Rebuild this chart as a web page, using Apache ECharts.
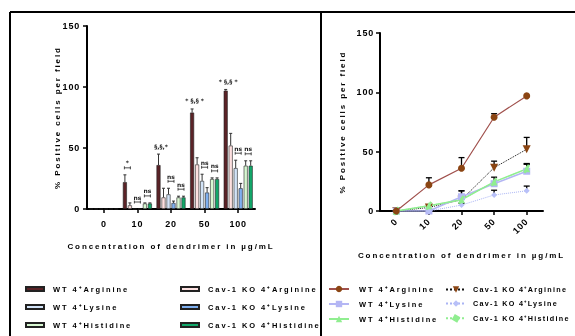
<!DOCTYPE html>
<html><head><meta charset="utf-8">
<script src="https://cdn.jsdelivr.net/npm/echarts@6/dist/echarts.min.js"></script>
<style>
html,body{margin:0;padding:0;background:#fff;}
#c{width:575px;height:336px;will-change:transform;}
#c text{letter-spacing:1.9px;}
#c text[style*="Arial"]{letter-spacing:0.8px;}
#c text[style*="Helvetica"]{letter-spacing:1.3px;}
#c text[style*="DejaVu"]{letter-spacing:0;}
</style></head><body><div id="c"></div>
<script>
// ---------- data ----------
const categories = ['0', '10', '20', '50', '100'];
const yTicks = [0, 50, 100, 150];
const nameWtArg = 'WT 4⁺Arginine';
const nameCavArg = 'Cav-1 KO 4⁺Arginine';
const nameWtLys = 'WT 4⁺Lysine';
const nameCavLys = 'Cav-1 KO 4⁺Lysine';
const nameWtHis = 'WT 4⁺Histidine';
const nameCavHis = 'Cav-1 KO 4⁺Histidine';
const wtArginine = [0, 22, 36, 79, 97];
const wtArginineErr = [0, 28, 45, 82, 98];
const cavArginine = [0, 3, 9.5, 36.5, 52];
const cavArginineErr = [0, 5, 17, 42, 62];
const wtLysine = [0, 0, 12, 23, 33.5];
const wtLysineErr = [0, 0, 17, 28.5, 40];
const cavLysine = [0, 0, 5, 13.5, 17];
const cavLysineErr = [0, 0, 6.5, 17.5, 21];
const wtHistidine = [0, 4.5, 9.5, 24.5, 35.5];
const wtHistidineErr = [0, 5, 10.5, 25.5, 39.5];
const cavHistidine = [0, 4.5, 9.5, 24.5, 35.5];
const cavHistidineErr = [0, 5, 10.5, 25.5, 39.5];
// significance marks: [category index, pair (0 Arg, 1 Lys, 2 His), text, bracket]
const annotations = [
  [1, 0, '*', true], [1, 1, 'ns', true], [1, 2, 'ns', true],
  [2, 0, '§,§,*', false], [2, 1, 'ns', true], [2, 2, 'ns', true],
  [3, 0, '* §,§ *', false], [3, 1, 'ns', true], [3, 2, 'ns', true],
  [4, 0, '* §,§ *', false], [4, 1, 'ns', true], [4, 2, 'ns', true]
];
const yTitle = '% Positive cells per field';
const xTitle = 'Concentration of dendrimer in µg/mL';

// ---------- build ----------
const names = [nameWtArg, nameCavArg, nameWtLys, nameCavLys, nameWtHis, nameCavHis];
const vals = [wtArginine, cavArginine, wtLysine, cavLysine, wtHistidine, cavHistidine];
const errs = [wtArginineErr, cavArginineErr, wtLysineErr, cavLysineErr, wtHistidineErr, cavHistidineErr];
const barColors = ['#5b2327', '#fde0e0', '#d3e4f8', '#7fb0f0', '#d8f8d2', '#12a86a'];
const BAR_W = 4, BAR_STEP = 5;
const barOffset = i => (i - 2.5) * BAR_STEP;
const FONT = 'Liberation Sans';
const LINE_PREFIX = 'L:';

const chart = echarts.init(document.getElementById('c'), null, {renderer: 'svg'});

const axisLineStyle = {color: '#000', width: 2};
function yAxis(gridIndex, gap, margin) {
  return {
    type: 'value', gridIndex, min: yTicks[0], max: yTicks[yTicks.length - 1],
    interval: yTicks[1] - yTicks[0],
    axisLine: {show: true, lineStyle: axisLineStyle},
    axisTick: {show: true, length: 4, lineStyle: {color: '#000', width: 1.5}},
    splitLine: {show: false},
    axisLabel: {color: '#000', fontFamily: 'Arial', fontWeight: 'bold', fontSize: 9, margin},
    name: yTitle, nameLocation: 'middle', nameRotate: 90, nameGap: gap,
    nameTextStyle: {color: '#000', fontFamily: FONT, fontWeight: 'bold', fontSize: 8}
  };
}
function xAxis(gridIndex, gap, rotate, margin) {
  return {
    type: 'category', gridIndex, data: categories,
    axisLine: {show: true, lineStyle: axisLineStyle},
    axisTick: {show: true, alignWithLabel: true, length: 4, lineStyle: {color: '#000', width: 1.5}},
    axisLabel: {color: '#000', fontFamily: 'Arial', fontWeight: 'bold', fontSize: 9, margin, rotate},
    name: xTitle, nameLocation: 'middle', nameGap: gap,
    nameTextStyle: {color: '#000', fontFamily: FONT, fontWeight: 'bold', fontSize: 8}
  };
}

const series = [];
// bars
names.forEach((n, i) => {
  series.push({
    type: 'bar', name: n, xAxisIndex: 0, yAxisIndex: 0, data: vals[i],
    barWidth: BAR_W, barGap: '25%',
    itemStyle: {color: barColors[i], borderColor: '#222', borderWidth: 0.6},
    z: 2
  });
});
// bar error bars
const barErrData = [];
names.forEach((n, s) => categories.forEach((c, ci) => barErrData.push([ci, vals[s][ci], errs[s][ci], s])));
series.push({
  type: 'custom', xAxisIndex: 0, yAxisIndex: 0, data: barErrData, z: 3,
  itemStyle: {color: '#333'},
  encode: {x: 0, y: [1, 2]},
  renderItem: (params, api) => {
    const c = api.value(0), v = api.value(1), e = api.value(2), s = api.value(3);
    if (e <= v) return null;
    const x = api.coord([c, 0])[0] + barOffset(s);
    const y1 = api.coord([c, v])[1], y2 = api.coord([c, e])[1];
    return {type: 'group', children: [
      {type: 'line', shape: {x1: x, y1: y1, x2: x, y2: y2}, style: {stroke: '#333', lineWidth: 1}},
      {type: 'line', shape: {x1: x - 1.5, y1: y2, x2: x + 1.5, y2: y2}, style: {stroke: '#333', lineWidth: 1}}
    ]};
  }
});
// significance annotations
series.push({
  type: 'custom', xAxisIndex: 0, yAxisIndex: 0, z: 4,
  itemStyle: {color: '#222'},
  data: annotations.map(a => [a[0], Math.max(errs[2 * a[1]][a[0]], errs[2 * a[1] + 1][a[0]])]),
  encode: {x: 0, y: 1},
  renderItem: (params, api) => {
    const a = annotations[params.dataIndex];
    const c = a[0], p = a[1];
    const x = api.coord([c, 0])[0] + barOffset(2 * p) + BAR_STEP / 2;
    const yTop = api.coord([c, api.value(1)])[1];
    const ch = [];
    let ty;
    if (a[3]) {
      const yb = yTop - 7;
      const st = {stroke: '#222', lineWidth: 0.8};
      ch.push({type: 'line', shape: {x1: x - 3, y1: yb, x2: x + 3, y2: yb}, style: st});
      ch.push({type: 'line', shape: {x1: x - 3, y1: yb - 1.5, x2: x - 3, y2: yb + 1.5}, style: st});
      ch.push({type: 'line', shape: {x1: x + 3, y1: yb - 1.5, x2: x + 3, y2: yb + 1.5}, style: st});
      ty = yb - 2;
    } else {
      ty = yTop - 5;
    }
    ch.push({type: 'text', style: {text: a[2], x: x, y: ty, align: 'center', verticalAlign: 'bottom',
      font: 'bold 6px "DejaVu Sans"', fill: '#222'}});
    return {type: 'group', children: ch};
  }
});
// lines
const lineStyles = [
  {line: {color: '#a0504c', width: 1.2, type: 'solid'}, symbol: 'circle', size: 7, color: '#8b4513', rot: 0},
  {line: {color: '#111', width: 1, type: 'dotted'}, symbol: 'triangle', size: 8, color: '#8b4513', rot: 180},
  {line: {color: '#b4b6f4', width: 1.5, type: 'solid'}, symbol: 'rect', size: 7, color: '#b4b6f4', rot: 0},
  {line: {color: '#aab4f4', width: 1, type: 'dotted'}, symbol: 'diamond', size: 6, color: '#b8c0f8', rot: 0},
  {line: {color: '#90ee90', width: 1.5, type: 'solid'}, symbol: 'triangle', size: 7, color: '#90ee90', rot: 0},
  {line: {color: '#90ee90', width: 1, type: 'dotted'}, symbol: 'rect', size: [2.5, 9], color: '#90ee90', rot: -30}
];
names.forEach((n, i) => {
  const ls = lineStyles[i];
  series.push({
    type: 'line', name: LINE_PREFIX + n, xAxisIndex: 1, yAxisIndex: 1, data: vals[i],
    symbol: ls.symbol, symbolSize: ls.size, symbolRotate: ls.rot, showSymbol: true,
    lineStyle: ls.line, itemStyle: {color: ls.color}, z: 3 + (i === 0 ? 2 : 0)
  });
});
// line error bars
const lineErrData = [];
names.forEach((n, s) => categories.forEach((c, ci) => lineErrData.push([ci, vals[s][ci], errs[s][ci], s])));
series.push({
  type: 'custom', xAxisIndex: 1, yAxisIndex: 1, data: lineErrData, z: 2,
  itemStyle: {color: '#000'},
  encode: {x: 0, y: [1, 2]},
  renderItem: (params, api) => {
    const c = api.value(0), v = api.value(1), e = api.value(2);
    if (e - v < 1.5) return null;
    const x = api.coord([c, 0])[0];
    const y1 = api.coord([c, v])[1], y2 = api.coord([c, e])[1];
    return {type: 'group', children: [
      {type: 'line', shape: {x1: x, y1: y1, x2: x, y2: y2}, style: {stroke: '#000', lineWidth: 1.3}},
      {type: 'line', shape: {x1: x - 3, y1: y2, x2: x + 3, y2: y2}, style: {stroke: '#000', lineWidth: 1.3}}
    ]};
  }
});

const legendText = {color: '#000', fontFamily: FONT, fontWeight: 'bold', fontSize: 7.5, padding: [0, 0, 0, 4]};
const option = {
  animation: false,
  backgroundColor: '#fff',
  grid: [
    {left: 87, top: 26, width: 168, height: 183},
    {left: 380, top: 33, width: 163, height: 178}
  ],
  xAxis: [xAxis(0, 33, 0, 10), xAxis(1, 40, 45, 9)],
  yAxis: [yAxis(0, 26, 7), yAxis(1, 34, 6)],
  legend: [
    {orient: 'vertical', left: 25, top: 285, padding: 0, itemWidth: 18, itemHeight: 4, itemGap: 10, icon: 'rect',
      data: [nameWtArg, nameWtLys, nameWtHis], textStyle: legendText, selectedMode: false},
    {orient: 'vertical', left: 180, top: 285, padding: 0, itemWidth: 18, itemHeight: 4, itemGap: 10, icon: 'rect',
      data: [nameCavArg, nameCavLys, nameCavHis], textStyle: legendText, selectedMode: false},
    {orient: 'vertical', left: 328, top: 285, padding: 0, itemWidth: 20, itemHeight: 8, itemGap: 7,
      data: [nameWtArg, nameWtLys, nameWtHis].map(n => LINE_PREFIX + n), textStyle: {...legendText, padding: [0, 0, 0, 5]},
      formatter: n => n.slice(LINE_PREFIX.length), selectedMode: false},
    {orient: 'vertical', left: 445, top: 286, padding: 0, itemWidth: 20, itemHeight: 8, itemGap: 7,
      data: [nameCavArg, nameCavLys, nameCavHis].map(n => LINE_PREFIX + n),
      textStyle: {...legendText, fontFamily: 'Helvetica', fontSize: 7.2, padding: [0, 0, 0, 2]},
      formatter: n => n.slice(LINE_PREFIX.length), selectedMode: false}
  ],
  graphic: [
    {type: 'line', shape: {x1: 10, y1: 12, x2: 575, y2: 12}, style: {stroke: '#000', lineWidth: 2}},
    {type: 'line', shape: {x1: 10, y1: 12, x2: 10, y2: 336}, style: {stroke: '#000', lineWidth: 2}},
    {type: 'line', shape: {x1: 321, y1: 12, x2: 321, y2: 336}, style: {stroke: '#000', lineWidth: 2}}
  ],
  series
};
chart.setOption(option);
</script></body></html>
